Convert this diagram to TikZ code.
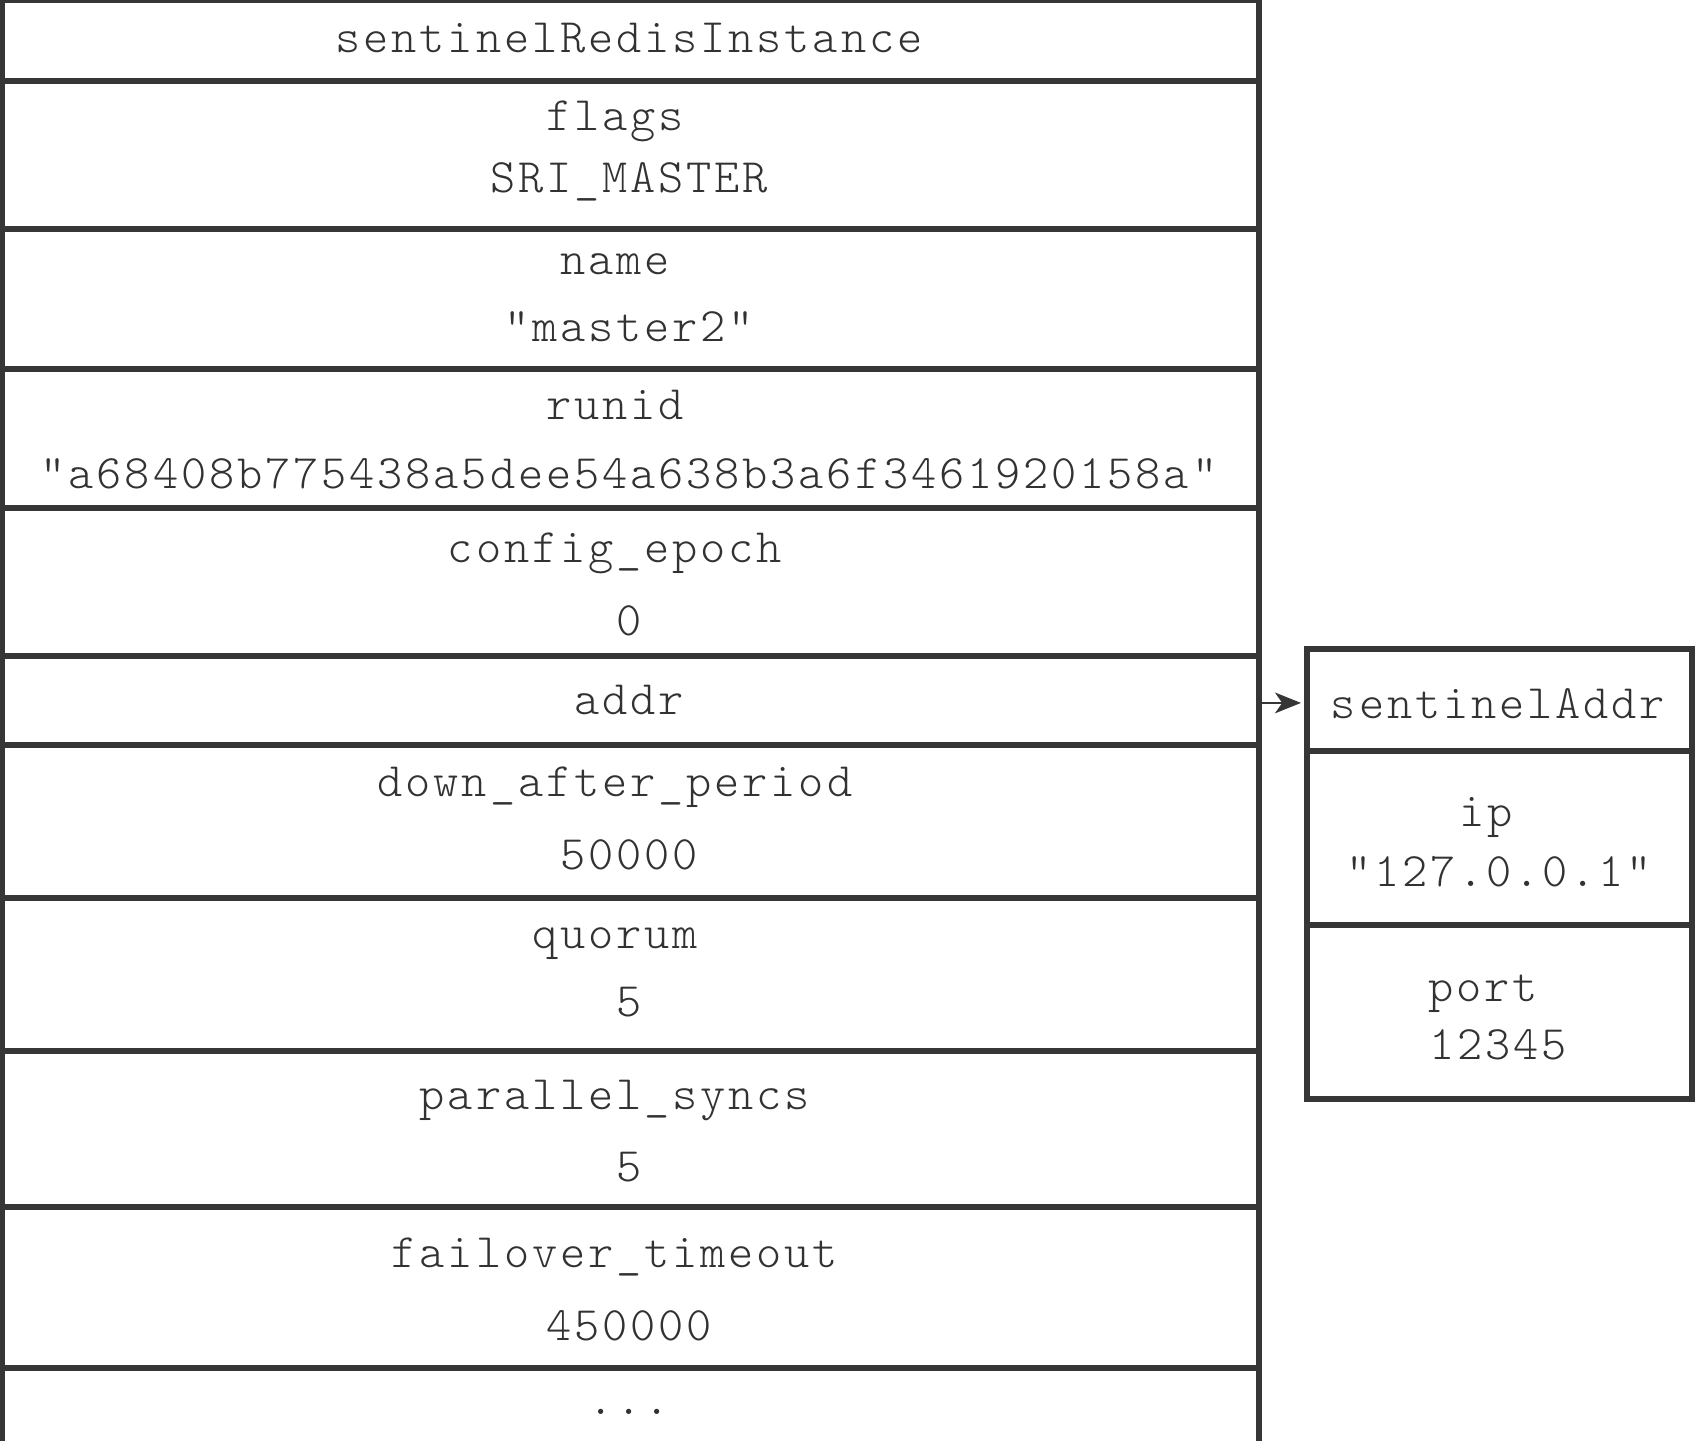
\documentclass[tikz,border=0pt]{standalone}
\usepackage{fontspec}
\setmonofont{lmmonolt10-regular.otf}[LetterSpace=6]
\usetikzlibrary{positioning, arrows.meta}

\definecolor{linegray}{RGB}{54,54,54}
\definecolor{textgray}{RGB}{50,50,50}

\tikzset{
    cell/.style={draw=linegray, line width=1.5pt, inner sep=0pt, minimum width=314.25pt},
    addrcell/.style={draw=linegray, line width=1.4pt, inner sep=0pt, minimum width=96.25pt},
    txt/.style={anchor=base, inner sep=0pt, text=textgray,
        font=\ttfamily\fontsize{12}{14}\selectfont},
}

\begin{document}
\begin{tikzpicture}[x=0.25pt, y=-0.25pt]

    \useasboundingbox (0,0) rectangle (1696,1440);
    \clip (0,0) rectangle (1696,1440);

    % sentinelRedisInstance rows
    \foreach \nm/\ya/\yb in {head/0/81, flags/81/229, name/229/369, runid/369/508,
        epoch/508/656, addr/656/745, down/745/898, quorum/898/1051,
        psyncs/1051/1207, failover/1207/1368, more/1368/1470}
        \node[cell, minimum height={(\yb-\ya)*0.25pt}] (\nm) at (630.5,{(\ya+\yb)/2}) {};

    % sentinelAddr rows
    \foreach \nm/\ya/\yb in {saddr/649/751, ip/751/925, port/925/1099}
        \node[addrcell, minimum height={(\yb-\ya)*0.25pt}] (\nm) at (1499.5,{(\ya+\yb)/2}) {};

    % Field names and values
    \node[txt] (headtxt) at (629, 52) {sentinelRedisInstance};
    \node[txt] (flagsname) at (615, 130) {flags};
    \node[txt] (flagsval) at (629, 192) {SRI\_MASTER};
    \node[txt] (namename) at (615, 274) {name};
    \node[txt] (nameval) at (629, 341) {"master2"};
    \node[txt] (runidname) at (615, 419) {runid};
    \node[txt] (runidval) at (629, 488) {"a68408b775438a5dee54a638b3a6f3461920158a"};
    \node[txt] (epochname) at (615, 562) {config\_epoch};
    \node[txt] (epochval) at (629, 635) {0};
    \node[txt] (addrtxt) at (629, 714) {addr};
    \node[txt] (downname) at (615, 796) {down\_after\_period};
    \node[txt] (downval) at (629, 869) {50000};
    \node[txt] (quorumname) at (615, 948) {quorum};
    \node[txt] (quorumval) at (629, 1016) {5};
    \node[txt] (psyncsname) at (615, 1109) {parallel\_syncs};
    \node[txt] (psyncsval) at (629, 1181) {5};
    \node[txt] (failovername) at (615, 1267) {failover\_timeout};
    \node[txt] (failoverval) at (629, 1340) {450000};
    \node[txt] (moretxt) at (629, 1414) {...};

    % sentinelAddr texts
    \node[txt] (saddrtxt) at (1498, 718) {sentinelAddr};
    \node[txt] (ipname) at (1486, 826) {ip};
    \node[txt] (ipval) at (1499, 886) {"127.0.0.1"};
    \node[txt] (portname) at (1483, 1001) {port};
    \node[txt] (portval) at (1498, 1059) {12345};

    % addr pointer
    \draw[-{Stealth[length=6.5pt, width=5.2pt, inset=1.8pt]}, line width=0.4pt, linegray, shorten >=0.8pt]
        ([yshift=-0.6pt]addr.east) -- ([yshift=-0.6pt]addr.east -| saddr.west);

\end{tikzpicture}
\end{document}
